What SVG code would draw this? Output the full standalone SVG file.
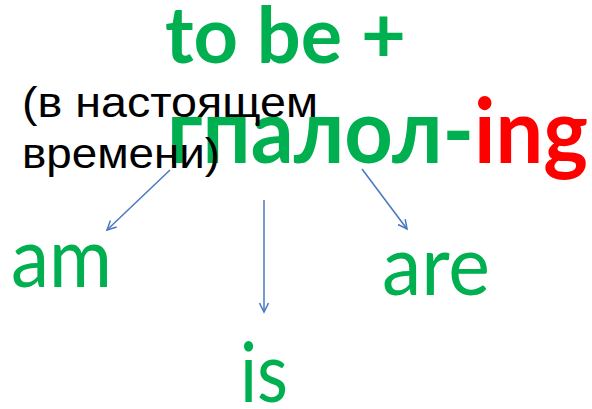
<svg xmlns="http://www.w3.org/2000/svg" width="592" height="409" viewBox="0 0 592 409">
<defs>
<style>
.g{fill:#00B050;font-family:Lato,"Open Sans","Noto Sans",sans-serif}
.b{font-weight:bold}
.r{fill:#FF0000}
.k{fill:#000;font-family:"Liberation Sans",Arial,sans-serif;font-size:42px}
.c{stroke:#4A78C0;stroke-width:1.5;fill:none}
</style>
<marker id="ah" markerWidth="12" markerHeight="12" refX="10" refY="6" orient="auto" markerUnits="userSpaceOnUse">
<path d="M1,1.5 L10,6 L1,10.5" fill="none" stroke="#4A78C0" stroke-width="1.5"/>
</marker>
</defs>
<rect width="592" height="409" fill="#fff"/>
<g id="title">
<text class="g b" x="165" y="63" font-size="78" textLength="241" lengthAdjust="spacingAndGlyphs">to be +</text>
</g>
<g id="verb">
<text class="g b" x="167" y="163" font-size="89" textLength="421" lengthAdjust="spacingAndGlyphs">гпалол-<tspan class="r">ing</tspan></text>
</g>
<g id="note">
<text class="k" x="22" y="117" textLength="296" lengthAdjust="spacingAndGlyphs">(в настоящем</text>
<text class="k" x="22" y="168" textLength="198" lengthAdjust="spacingAndGlyphs">времени)</text>
</g>
<g id="am"><text class="g" x="11" y="287" font-size="83" textLength="101" lengthAdjust="spacingAndGlyphs">am</text></g>
<g id="is"><text class="g" x="240" y="402" font-size="83" textLength="48" lengthAdjust="spacingAndGlyphs">is</text></g>
<g id="are"><text class="g" x="382" y="295" font-size="83" textLength="108" lengthAdjust="spacingAndGlyphs">are</text></g>
<g id="connectors">
<line class="c" x1="170" y1="170" x2="107" y2="230" marker-end="url(#ah)"/>
<line class="c" x1="264" y1="200" x2="264" y2="312" marker-end="url(#ah)"/>
<line class="c" x1="362" y1="169" x2="407" y2="229" marker-end="url(#ah)"/>
</g>
</svg>
